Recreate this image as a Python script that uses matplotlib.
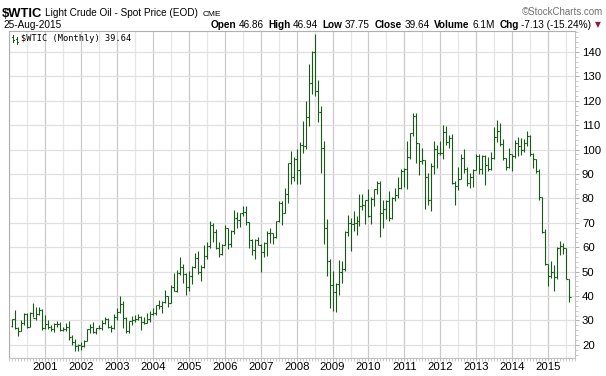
import matplotlib
matplotlib.use("Agg")
import matplotlib.pyplot as plt
from matplotlib.lines import Line2D
import numpy as np

# ---------------- data (monthly OHLC, Feb 2000 .. Aug 2015) ----------------
start_year, start_month = 2000, 2

opens = [
    27.6, 30.4, 26.9, 25.7, 29.0, 32.5, 27.4, 33.1, 30.8, 32.7, 34.4,
    26.8, 28.7, 27.4, 26.3, 28.5, 28.4, 26.2, 26.4, 27.2, 23.4, 21.2, 19.4,
    19.8, 19.5, 21.7, 26.3, 27.3, 25.3, 26.9, 27.0, 28.9, 30.5, 27.2, 26.9,
    31.2, 33.5, 36.6, 31.0, 25.8, 29.6, 30.2, 30.5, 31.6, 29.2, 29.1, 30.4,
    32.5, 33.1, 36.2, 35.8, 37.4, 39.9, 37.1, 43.8, 42.1, 49.6, 51.8, 49.1,
    43.5, 48.2, 51.8, 55.4, 49.7, 51.9, 56.5, 60.6, 68.9, 66.2, 59.8, 57.3,
    61.0, 67.9, 61.4, 66.6, 71.9, 71.3, 73.9, 74.4, 70.3, 62.9, 58.7, 63.1,
    61.1, 58.1, 61.8, 65.9, 65.7, 64.0, 70.7, 78.2, 74.0, 81.7, 94.5, 88.7,
    96.0, 91.8, 101.8, 101.6, 113.5, 127.4, 140.0, 124.1, 115.5, 100.6, 67.8, 54.4,
    44.6, 41.7, 44.8, 49.7, 51.1, 66.3, 69.9, 69.5, 70.0, 70.6, 77.0, 77.3,
    79.4, 72.9, 79.7, 83.8, 86.2, 74.0, 75.6, 78.9, 71.9, 80.0, 81.4, 84.1,
    91.4, 92.2, 97.0, 106.7, 113.9, 102.7, 95.4, 95.7, 88.8, 79.2, 93.2, 100.4,
    98.8, 98.5, 107.1, 103.0, 104.9, 86.5, 85.0, 88.1, 96.5, 92.2, 86.2, 88.9,
    91.8, 97.5, 92.1, 97.2, 93.5, 92.0, 96.6, 105.0, 107.7, 102.3, 96.4, 92.7,
    98.4, 97.5, 102.6, 101.6, 99.7, 102.7, 105.4, 98.2, 96.0, 91.2, 80.5, 66.2,
    53.3, 48.2, 49.8, 47.7, 59.6, 60.3, 59.5, 46.86,
]
highs = [
    30.5, 34.1, 27.5, 30.2, 33.0, 33.0, 33.5, 37.2, 35.7, 35.3, 34.8,
    32.2, 30.0, 28.3, 28.8, 29.6, 29.5, 27.4, 28.8, 29.8, 23.9, 22.3, 20.4,
    21.0, 21.9, 26.6, 28.4, 29.4, 27.0, 28.3, 30.0, 31.4, 30.9, 28.1, 32.7,
    35.2, 39.9, 38.1, 31.2, 29.8, 31.9, 32.2, 32.5, 31.7, 31.6, 33.0, 33.7,
    35.2, 36.5, 38.4, 38.0, 42.3, 40.0, 44.5, 49.4, 50.5, 56.0, 53.0, 49.4,
    50.1, 52.4, 57.6, 58.3, 52.6, 60.9, 62.3, 70.9, 70.0, 67.3, 62.0, 61.4,
    69.2, 68.0, 67.1, 75.4, 74.6, 74.0, 77.0, 77.0, 70.3, 63.5, 63.3, 64.2,
    61.3, 62.2, 66.7, 67.9, 66.0, 70.7, 78.8, 78.8, 84.1, 94.7, 99.3, 97.0,
    100.1, 103.1, 111.8, 119.9, 135.1, 140.3, 147.3, 128.5, 118.0, 103.5, 71.5, 55.1,
    50.3, 45.4, 54.7, 54.5, 66.5, 73.4, 71.9, 75.0, 72.9, 82.0, 82.0, 79.5,
    83.9, 80.5, 83.9, 87.2, 87.2, 79.4, 79.4, 82.9, 80.6, 84.4, 88.6, 92.1,
    92.6, 103.4, 107.0, 114.8, 115.0, 102.7, 100.5, 95.9, 90.5, 94.6, 103.4, 101.8,
    103.7, 110.0, 109.8, 106.0, 106.5, 87.2, 92.9, 98.3, 100.4, 93.0, 90.3, 92.0,
    98.2, 98.2, 97.7, 97.8, 97.0, 99.0, 109.3, 112.2, 110.7, 104.4, 96.6, 100.8,
    98.4, 103.9, 105.2, 104.9, 104.5, 107.7, 105.9, 98.5, 96.0, 91.9, 80.5, 67.5,
    53.3, 54.2, 52.9, 59.9, 62.6, 61.6, 59.5, 46.94,
]
lows = [
    27.3, 26.3, 23.8, 25.5, 28.2, 26.9, 27.3, 31.5, 30.1, 32.1, 25.9,
    26.4, 26.5, 25.7, 25.3, 27.2, 25.6, 25.5, 25.6, 21.8, 20.0, 17.5, 17.5,
    17.9, 19.0, 21.5, 24.9, 24.9, 24.3, 26.3, 26.2, 28.6, 26.9, 25.1, 26.3,
    30.3, 33.0, 27.0, 25.0, 25.0, 28.0, 29.2, 30.0, 25.9, 28.6, 28.8, 29.5,
    32.2, 32.3, 34.7, 33.2, 37.1, 35.3, 37.0, 42.1, 41.7, 48.5, 45.5, 40.3,
    42.1, 45.0, 51.5, 49.2, 46.2, 51.5, 55.0, 59.6, 62.0, 59.2, 55.8, 56.7,
    60.8, 59.3, 60.0, 65.6, 68.0, 68.2, 72.6, 69.3, 59.5, 56.8, 55.2, 60.9,
    49.9, 56.1, 56.3, 61.9, 61.3, 63.9, 70.2, 69.0, 73.9, 78.1, 86.0, 87.0,
    86.1, 86.1, 98.7, 100.1, 109.6, 122.7, 121.8, 111.3, 90.5, 61.2, 48.2, 35.0,
    33.8, 33.5, 40.5, 45.5, 50.1, 64.5, 58.3, 66.6, 65.1, 68.6, 75.2, 69.5,
    72.4, 69.5, 77.0, 82.0, 64.2, 68.0, 71.5, 70.8, 71.6, 79.1, 80.1, 84.0,
    84.7, 83.9, 96.1, 105.5, 94.6, 89.7, 94.0, 75.7, 77.1, 74.9, 89.9, 92.5,
    97.7, 96.0, 102.0, 100.7, 86.0, 77.3, 83.4, 88.0, 90.5, 84.9, 84.1, 84.5,
    91.5, 90.0, 90.2, 85.6, 91.1, 91.5, 96.0, 103.0, 101.6, 95.8, 91.8, 92.4,
    91.2, 96.4, 97.4, 97.9, 98.9, 101.4, 97.2, 92.5, 90.4, 79.4, 65.7, 52.7,
    44.2, 47.4, 42.0, 47.0, 56.8, 57.1, 46.8, 37.75,
]
closes = [
    30.4, 26.9, 25.7, 29.0, 32.5, 27.4, 33.1, 30.8, 32.7, 34.4, 26.8,
    28.7, 27.4, 26.3, 28.5, 28.4, 26.2, 26.4, 27.2, 23.4, 21.2, 19.4, 19.8,
    19.5, 21.7, 26.3, 27.3, 25.3, 26.9, 27.0, 28.9, 30.5, 27.2, 26.9, 31.2,
    33.5, 36.6, 31.0, 25.8, 29.6, 30.2, 30.5, 31.6, 29.2, 29.1, 30.4, 32.5,
    33.1, 36.2, 35.8, 37.4, 39.9, 37.1, 43.8, 42.1, 49.6, 51.8, 49.1, 43.5,
    48.2, 51.8, 55.4, 49.7, 51.9, 56.5, 60.6, 68.9, 66.2, 59.8, 57.3, 61.0,
    67.9, 61.4, 66.6, 71.9, 71.3, 73.9, 74.4, 70.3, 62.9, 58.7, 63.1, 61.1,
    58.1, 61.8, 65.9, 65.7, 64.0, 70.7, 78.2, 74.0, 81.7, 94.5, 88.7, 96.0,
    91.8, 101.8, 101.6, 113.5, 127.4, 140.0, 124.1, 115.5, 100.6, 67.8, 54.4, 44.6,
    41.7, 44.8, 49.7, 51.1, 66.3, 69.9, 69.5, 70.0, 70.6, 77.0, 77.3, 79.4,
    72.9, 79.7, 83.8, 86.2, 74.0, 75.6, 78.9, 71.9, 80.0, 81.4, 84.1, 91.4,
    92.2, 97.0, 106.7, 113.9, 102.7, 95.4, 95.7, 88.8, 79.2, 93.2, 100.4, 98.8,
    98.5, 107.1, 103.0, 104.9, 86.5, 85.0, 88.1, 96.5, 92.2, 86.2, 88.9, 91.8,
    97.5, 92.1, 97.2, 93.5, 92.0, 96.6, 105.0, 107.7, 102.3, 96.4, 92.7, 98.4,
    97.5, 102.6, 101.6, 99.7, 102.7, 105.4, 98.2, 96.0, 91.2, 80.5, 66.2, 53.3,
    48.2, 49.8, 47.7, 59.6, 60.3, 59.5, 46.77, 39.64,
]

year_labels = ["2001", "2002", "2003", "2004", "2005", "2006", "2007", "2008",
               "2009", "2010", "2011", "2012", "2013", "2014", "2015"]
y_ticks = [20, 30, 40, 50, 60, 70, 80, 90, 100, 110, 120, 130, 140]

title_symbol = "$WTIC"
title_name = "Light Crude Oil - Spot Price (EOD)"
title_exch = "CME"
date_str = "25-Aug-2015"
stats = [("Open", "46.86"), ("High", "46.94"), ("Low", "37.75"),
         ("Close", "39.64"), ("Volume", "6.1M"), ("Chg", "-7.13 (-15.24%)")]
legend_str = "$WTIC (Monthly) 39.64"

# ---------------- figure ----------------
W, H = 606, 376
fig = plt.figure(figsize=(W / 100, H / 100), dpi=100)
fig.patch.set_facecolor("white")

L_px, R_px, T_px, B_px = 9.3, 575.0, 31.0, 358.0
ax = fig.add_axes([L_px / W, 1 - B_px / H, (R_px - L_px) / W, (B_px - T_px) / H])

n = len(closes)
idx = np.arange(n) + (start_year - 2000) * 12 + (start_month - 1)  # months since Jan 2000

green = "#175a17"
lw = 0.8
ax.vlines(idx, lows, highs, color=green, lw=lw, capstyle="butt", zorder=3)
ax.hlines(opens, idx - 0.5, idx, color=green, lw=lw, zorder=3)
ax.hlines(closes, idx, idx + 0.5, color=green, lw=lw, zorder=3)

x0 = (L_px - 8.3) / 3.0
ax.set_xlim(x0, x0 + (R_px - L_px) / 3.0)
ax.set_ylim(14.6, 148.6)

year_pos = [(int(y) - 2000) * 12 for y in year_labels]
ax.set_xticks(year_pos)
ax.set_xticklabels(year_labels)
ax.set_xticks(np.arange(0, 190, 1), minor=True)
ax.set_yticks(y_ticks)
ax.set_yticks(np.arange(16, 149, 2), minor=True)

# grid
for p in year_pos + [0]:
    ax.axvline(p, color="#c9c9c9", lw=0.9, zorder=1)
for p in [(y - 2000) * 12 + 6 for y in range(2000, 2016)]:
    ax.axvline(p, color="#e6e6e6", lw=0.9, zorder=1)
for v in y_ticks:
    ax.axhline(v, color="#e0e0e0", lw=0.9, zorder=1)

for s in ["top", "left"]:
    ax.spines[s].set_color("#b0b0b0")
    ax.spines[s].set_linewidth(0.8)
for s in ["right", "bottom"]:
    ax.spines[s].set_color("#c0c0c0")
    ax.spines[s].set_linewidth(0.8)

ax.yaxis.tick_right()
ax.tick_params(axis="y", which="major", length=3, width=0.7, color="#b0b0b0",
               labelsize=8.2, pad=2, labelcolor="black")
ax.tick_params(axis="y", which="minor", length=2, width=0.6, color="#c0c0c0")
ax.tick_params(axis="x", which="major", length=2, width=0.7, color="#b0b0b0",
               labelsize=8.2, pad=1.0, labelcolor="black")
ax.tick_params(axis="x", which="minor", length=2, width=0.6, color="#c0c0c0")
for lab in ax.get_xticklabels() + ax.get_yticklabels():
    lab.set_fontfamily("Liberation Sans")

# ---------------- header text ----------------
def fx(px):
    return px / W

def fy(py):
    return 1 - py / H

fig.canvas.draw()
renderer = fig.canvas.get_renderer()

def put(x, y, s, **kw):
    t = fig.text(fx(x), fy(y), s, va="baseline", **kw)
    bb = t.get_window_extent(renderer)
    return t, bb.width

sans = ["Liberation Sans", "DejaVu Sans"]
_, w = put(2, 17, title_symbol, fontsize=9.4, fontweight="bold", family=sans)
_, w2 = put(2 + w + 3, 16.5, title_name, fontsize=7.2, family=sans)
put(2 + w + 3 + w2 + 4, 16.5, title_exch, fontsize=6.0, family=sans)
put(603, 15, "\u00a9StockCharts.com", fontsize=7.0, family=sans, color="#707070", ha="right")

put(3, 28, date_str, fontsize=7.2, family=sans)

# stats line, right aligned at x=591
pieces = []
for lab, val in stats:
    pieces.append((lab, "bold"))
    pieces.append((val, "normal"))
widths = []
for s, wt in pieces:
    t = fig.text(0, 0, s, fontsize=7.2, fontweight=wt, family=sans)
    widths.append(t.get_window_extent(renderer).width)
    t.remove()
gaps = []
for i in range(len(pieces)):
    gaps.append(2.5 if i % 2 == 0 else 4.5)
total = sum(widths) + sum(gaps[:-1])
x = 591 - total
for i, (s, wt) in enumerate(pieces):
    put(x, 28, s, fontsize=7.2, fontweight=wt, family=sans)
    x += widths[i] + gaps[i]
put(598, 27.5, "\u25bc", fontsize=5.5, family=["DejaVu Sans"], color="#8b1c3c", ha="center")

# legend inside plot
put(21, 41, legend_str, fontsize=6.2, family=["DejaVu Sans Mono"])
icon = [(12.5, 35, 42, 11.5, 13.5), (16.5, 36.5, 43.5, 15.5, 17.5)]
for xi, ytop, ybot, xl, xr in icon:
    fig.add_artist(Line2D([fx(xi), fx(xi)], [fy(ytop), fy(ybot)], color=green, lw=0.7))
    fig.add_artist(Line2D([fx(xl), fx(xi)], [fy(ytop + 2), fy(ytop + 2)], color=green, lw=0.7))
    fig.add_artist(Line2D([fx(xi), fx(xr)], [fy(ybot - 2), fy(ybot - 2)], color=green, lw=0.7))

fig.savefig("out.png", dpi=100, facecolor="white")
